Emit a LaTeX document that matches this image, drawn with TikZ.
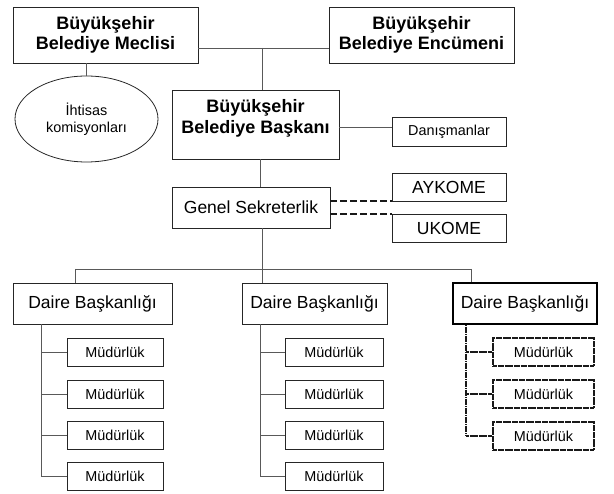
\documentclass[tikz,border=0pt]{standalone}
\usepackage{fontspec}
\setmainfont{Liberation Sans}
\usetikzlibrary{shapes.geometric}
\begin{document}
\begin{tikzpicture}[x=1pt,y=-1pt,
  unit/.style={draw=black!85, line width=0.8pt, align=center, inner sep=0pt,
    font=\fontsize{17.5}{20}\selectfont},
  head/.style={unit, font=\fontsize{18}{20.5}\selectfont\bfseries},
  small/.style={unit, font=\fontsize{14.4}{17}\selectfont},
  mudur/.style={small, minimum height=28},
  dotbox/.style={mudur, draw=black!90, line width=1.4pt, dash pattern=on 2pt off 0.3pt},
  link/.style={draw=black!65, line width=0.7pt},
  dotlink/.style={draw=black!90, line width=1.2pt, dash pattern=on 1.5pt off 0.3pt},
  dashlink/.style={draw=black!90, line width=2pt, dash pattern=on 7pt off 3pt}]

  \useasboundingbox (0,0) rectangle (614,494);

  % Top level
  \node[head, minimum width=185, minimum height=56] (meclis) at (105.5,35) {Büyükşehir\\Belediye Meclisi};
  \node[head, minimum width=185, minimum height=56] (encumen) at (421.5,35) {Büyükşehir\\Belediye Encümeni};
  \node[small, ellipse, minimum width=143, minimum height=86] (ihtisas) at (86.5,119) {İhtisas\\komisyonları};
  \node[head, text depth=16pt, minimum width=167, minimum height=69] (baskan) at (255.5,124.5) {Büyükşehir\\Belediye Başkanı};
  \node[small, minimum width=114, minimum height=29] (danis) at (449,131.5) {Danışmanlar};

  % Secretariat and committees
  \node[unit, minimum width=158, minimum height=41] (gensek) at (251,207.5) {Genel Sekreterlik};
  \node[unit, minimum width=114, minimum height=28] (aykome) at (449,187) {AYKOME};
  \node[unit, minimum width=114, minimum height=28] (ukome) at (449,228) {UKOME};

  % Departments
  \node[unit, minimum width=159, minimum height=41] (daire1) at (92.5,303.5) {Daire Başkanlığı};
  \node[unit, minimum width=145, minimum height=41] (daire2) at (314.5,303.5) {Daire Başkanlığı};
  \node[unit, line width=1.6pt, draw=black, minimum width=144, minimum height=41] (daire3) at (525,303.5) {Daire Başkanlığı};

  % Connectors at the top
  \coordinate (top) at (262,48);
  \coordinate (dl) at ([yshift=4.5pt]danis.west);
  \draw[link] (meclis.east |- top) -- (encumen.west |- top);
  \draw[link] (top) -- (top |- baskan.north);
  \draw[link] (ihtisas.north |- meclis.south) -- (ihtisas.north);
  \draw[link] (baskan.east |- dl) -- (dl);
  \draw[link] (260,0 |- baskan.south) -- (260,0 |- gensek.north);
  \draw[dashlink] (gensek.east |- aykome.south west) -- (aykome.south west);
  \draw[dashlink] (gensek.east |- ukome.north west) -- (ukome.north west);

  % Bus to the departments
  \coordinate (bus) at (262,269);
  \coordinate (busL) at (75,269);
  \coordinate (busR) at (471,269);
  \draw[link] (bus |- gensek.south) -- (bus);
  \draw[link] (busL) -- (busR);
  \draw[link] (busL) -- (busL |- daire1.north);
  \draw[link] (bus) -- (bus |- daire2.north);
  \draw[link] (busR) -- (busR |- daire3.north);

  % Directorates
  \coordinate (ta) at (41,0 |- daire1.south);
  \coordinate (tb) at (260,0 |- daire2.south);
  \coordinate (tc) at (466,0 |- daire3.south);
  \foreach \y [count=\i] in {352.5,394,435.5,476.5} {
    \node[mudur, minimum width=96] (ma\i) at (115,\y) {Müdürlük};
    \node[mudur, minimum width=98] (mb\i) at (334,\y) {Müdürlük};
    \draw[link] (ta |- ma\i.west) -- (ma\i.west);
    \draw[link] (tb |- mb\i.west) -- (mb\i.west);
  }
  \foreach \y [count=\i] in {352,394,436} {
    \node[dotbox, minimum width=101] (mc\i) at (543.5,\y) {Müdürlük};
    \draw[dotlink] (tc |- mc\i.west) -- (mc\i.west);
  }
  \draw[link] (ta) -- (ta |- ma4.west);
  \draw[link] (tb) -- (tb |- mb4.west);
  \draw[dotlink] (tc) -- (tc |- mc3.west);

\end{tikzpicture}
\end{document}
